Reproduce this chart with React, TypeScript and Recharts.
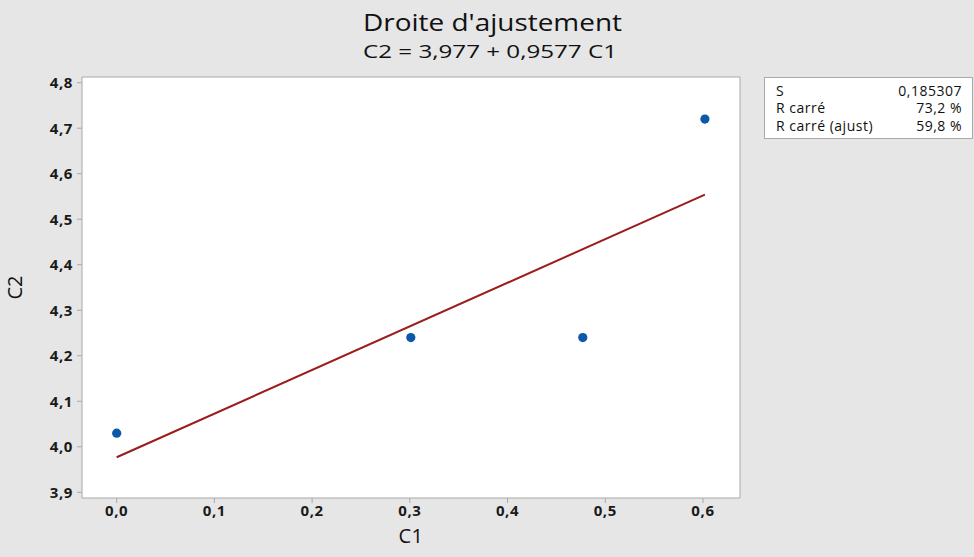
import React from 'react';
import { ComposedChart, XAxis, YAxis, Scatter, Line, ReferenceArea, Label } from 'recharts';

const c1Values = [0, 0.301, 0.477, 0.602];
const c2Values = [4.03, 4.24, 4.24, 4.72];
const fitX = [0, 0.602];
const fitY = [3.977, 4.554];
const xTicks = [0, 0.1, 0.2, 0.3, 0.4, 0.5, 0.6];
const yTicks = [3.9, 4.0, 4.1, 4.2, 4.3, 4.4, 4.5, 4.6, 4.7, 4.8];
const xDomain = [-0.0355, 0.6379];
const yDomain = [3.8875, 4.8125];
const statLabels = ['S', 'R carré', 'R carré (ajust)'];
const statValues = ['0,185307', '73,2 %', '59,8 %'];
const title = "Droite d'ajustement";
const subtitle = 'C2 = 3,977 + 0,9577 C1';

const points = c1Values.map((x, i) => ({ x, y: c2Values[i] }));
const fitLine = fitX.map((x, i) => ({ x, y: fitY[i] }));

const fmt = (v: number) => v.toFixed(1).replace('.', ',');
const FONT = '"Open Sans", "Noto Sans", sans-serif';

const Dot = (props: any) => <circle cx={props.cx} cy={props.cy} r={4.6} fill="#0b59a8" />;

const tickStyle = { fontSize: 15, fontWeight: 700, fill: '#1a1a1a', fontFamily: FONT, letterSpacing: 0.6 };

export default function App() {
  return (
    <div style={{ position: 'absolute', left: 0, top: 0, width: 974, height: 557, background: '#e6e6e6', fontFamily: FONT }}>
      <ComposedChart width={974} height={557} margin={{ top: 77, right: 234, bottom: 29, left: 32 }} style={{ position: 'absolute', left: 0, top: 0 }}>
        <ReferenceArea x1={xDomain[0]} x2={xDomain[1]} y1={yDomain[0]} y2={yDomain[1]} fill="#ffffff" fillOpacity={1} stroke="#a8a8a8" strokeWidth={1} />
        <XAxis type="number" dataKey="x" domain={xDomain} ticks={xTicks} tickFormatter={fmt} allowDataOverflow height={30}
          axisLine={false} tickLine={{ stroke: '#a8a8a8' }} tickSize={5}
          tick={tickStyle}>
          <Label value="C1" position="insideBottom" offset={-15} style={{ fontSize: 20, fill: '#111', fontFamily: FONT, letterSpacing: 0.5 }} />
        </XAxis>
        <YAxis type="number" dataKey="y" domain={yDomain} ticks={yTicks} tickFormatter={fmt} allowDataOverflow width={50}
          axisLine={false} tickLine={{ stroke: '#a8a8a8' }} tickSize={5} tickMargin={4}
          tick={tickStyle}>
          <Label value="C2" angle={-90} position="insideLeft" offset={-17} style={{ fontSize: 20, fill: '#111', fontFamily: FONT, textAnchor: 'middle' }} />
        </YAxis>
        <Line data={fitLine} dataKey="y" stroke="#9b1c1c" strokeWidth={2} dot={false} isAnimationActive={false} />
        <Scatter data={points} dataKey="y" shape={Dot} isAnimationActive={false} />
      </ComposedChart>
      <svg width={974} height={70} style={{ position: 'absolute', left: 0, top: 0 }}>
        <text x={492.5} y={30.5} textAnchor="middle" fontSize={23} fill="#111" fontFamily={FONT} textLength={259} lengthAdjust="spacingAndGlyphs">{title}</text>
        <text x={490} y={58} textAnchor="middle" fontSize={19} fill="#111" fontFamily={FONT} textLength={254} lengthAdjust="spacingAndGlyphs">{subtitle}</text>
      </svg>
      <div style={{ position: 'absolute', left: 764, top: 77, width: 209, height: 62, background: '#fff', border: '1px solid #a8a8a8', boxSizing: 'border-box', padding: '4px 10px 0 11px', fontSize: 14, letterSpacing: 0.5, color: '#111', lineHeight: '17.3px' }}>
        {statLabels.map((l, i) => (
          <div key={l} style={{ display: 'flex', justifyContent: 'space-between' }}>
            <span>{l}</span><span>{statValues[i]}</span>
          </div>
        ))}
      </div>
    </div>
  );
}
